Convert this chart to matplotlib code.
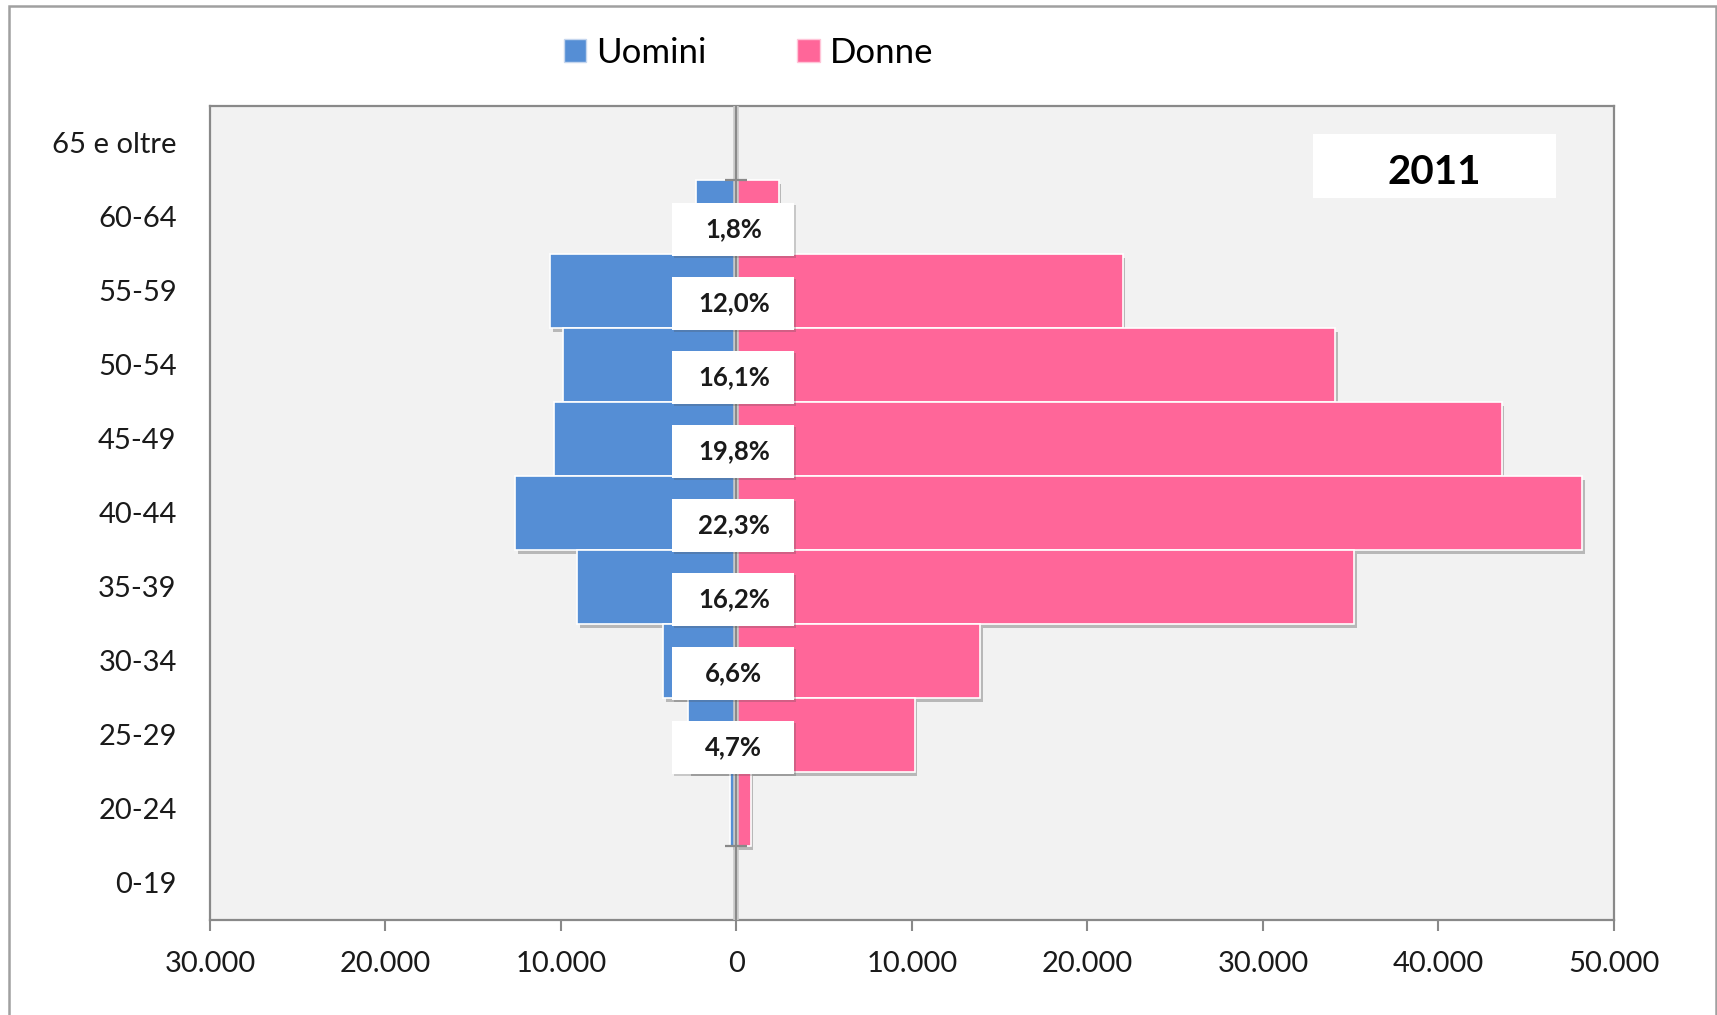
import matplotlib
matplotlib.use("Agg")
import matplotlib.pyplot as plt
from matplotlib.patches import Patch, Rectangle
from matplotlib.ticker import FuncFormatter
import matplotlib.patheffects as pe

plt.rcParams['font.family'] = ['Lato', 'DejaVu Sans']

# dati
categorie = ["65 e oltre", "60-64", "55-59", "50-54", "45-49", "40-44",
             "35-39", "30-34", "25-29", "20-24", "0-19"]
uomini = [0, 2300, 10600, 9900, 10400, 12600, 9100, 4200, 2750, 350, 0]
donne = [0, 2400, 22000, 34100, 43600, 48200, 35200, 13900, 10150, 800, 0]
percentuali = ["", "1,8%", "12,0%", "16,1%", "19,8%", "22,3%",
               "16,2%", "6,6%", "4,7%", "", ""]
anno = "2011"

col_uomini = "#558ED5"
col_donne = "#FF6699"
grigio = "#898989"

fig = plt.figure(figsize=(17.17, 10.15), dpi=100)
ax = fig.add_axes([0.1223, 0.0936, 0.8177, 0.802])
ax.set_facecolor("#F2F2F2")

ypos = list(range(len(categorie)))
ombra = [pe.SimplePatchShadow(offset=(2, -3), shadow_rgbFace="#808080", alpha=0.5), pe.Normal()]

for i in ypos:
    if uomini[i] > 0:
        ax.barh(i, -uomini[i], height=1.0, color=col_uomini, edgecolor="white",
                linewidth=1.2, zorder=2, path_effects=ombra)
    if donne[i] > 0:
        ax.barh(i, donne[i], height=1.0, color=col_donne, edgecolor="white",
                linewidth=1.2, zorder=2, path_effects=ombra)

# linea centrale e piccoli segni ai bordi delle barre
ax.axvline(0, color="#C8C8C8", lw=4, zorder=3)
ax.axvline(0, color=grigio, lw=1.4, zorder=3)
bordi = [i + 0.5 for i in ypos if uomini[i] > 0] + [ypos[1] - 0.5]
ax.plot([0] * len(bordi), bordi, linestyle="none", marker="_", markersize=16,
        markeredgewidth=1.6, color=grigio, zorder=3)

# etichette percentuali
off = 0.17
for i, t in enumerate(percentuali):
    if not t:
        continue
    ax.add_patch(Rectangle((-3700, i + off - 0.36), 7000, 0.72, facecolor="white",
                           edgecolor="none", zorder=4,
                           path_effects=[pe.SimplePatchShadow(offset=(1.5, -1.5), alpha=0.25), pe.Normal()]))
    ax.text(-150, i + off, t, ha="center", va="center", fontsize=18.5,
            fontweight="bold", color="#1a1a1a", zorder=5)

ax.set_xlim(-30000, 50000)
ax.set_ylim(len(categorie) - 0.5, -0.5)
ax.set_xticks(range(-30000, 50001, 10000))
ax.xaxis.set_major_formatter(FuncFormatter(lambda v, p: f"{abs(int(v)):,}".replace(",", ".")))
ax.set_yticks(ypos)
ax.set_yticklabels(categorie)
ax.tick_params(axis="x", length=8, width=1.5, color=grigio, labelsize=21, pad=14,
               labelcolor="#1a1a1a")
ax.tick_params(axis="y", length=0, labelsize=21, pad=24, labelcolor="#1a1a1a")
for s in ax.spines.values():
    s.set_color(grigio)
    s.set_linewidth(1.6)

# riquadro anno
ax.add_patch(Rectangle((0.7856, 0.887), 0.173, 0.0786, transform=ax.transAxes,
                       facecolor="white", edgecolor="none", zorder=4))
ax.text(0.872, 0.918, anno, transform=ax.transAxes, ha="center", va="center",
        fontsize=29, fontweight="bold", color="black", zorder=5)

# legenda
maniglie = [Patch(facecolor=col_uomini, edgecolor="#c5d6ee", label="Uomini"),
            Patch(facecolor=col_donne, edgecolor="#ffc5d8", label="Donne")]
fig.legend(handles=maniglie, loc="center", bbox_to_anchor=(0.436, 0.948), ncol=2,
           frameon=False, fontsize=25, handlelength=0.65, handleheight=0.65,
           handletextpad=0.3, columnspacing=2.6)

# cornice esterna
fig.patches.append(Rectangle((0.0052, -0.02), 0.9942, 1.014, transform=fig.transFigure,
                             facecolor="none", edgecolor="#A0A0A0", linewidth=1.8))

fig.savefig("out.png", dpi=100)
